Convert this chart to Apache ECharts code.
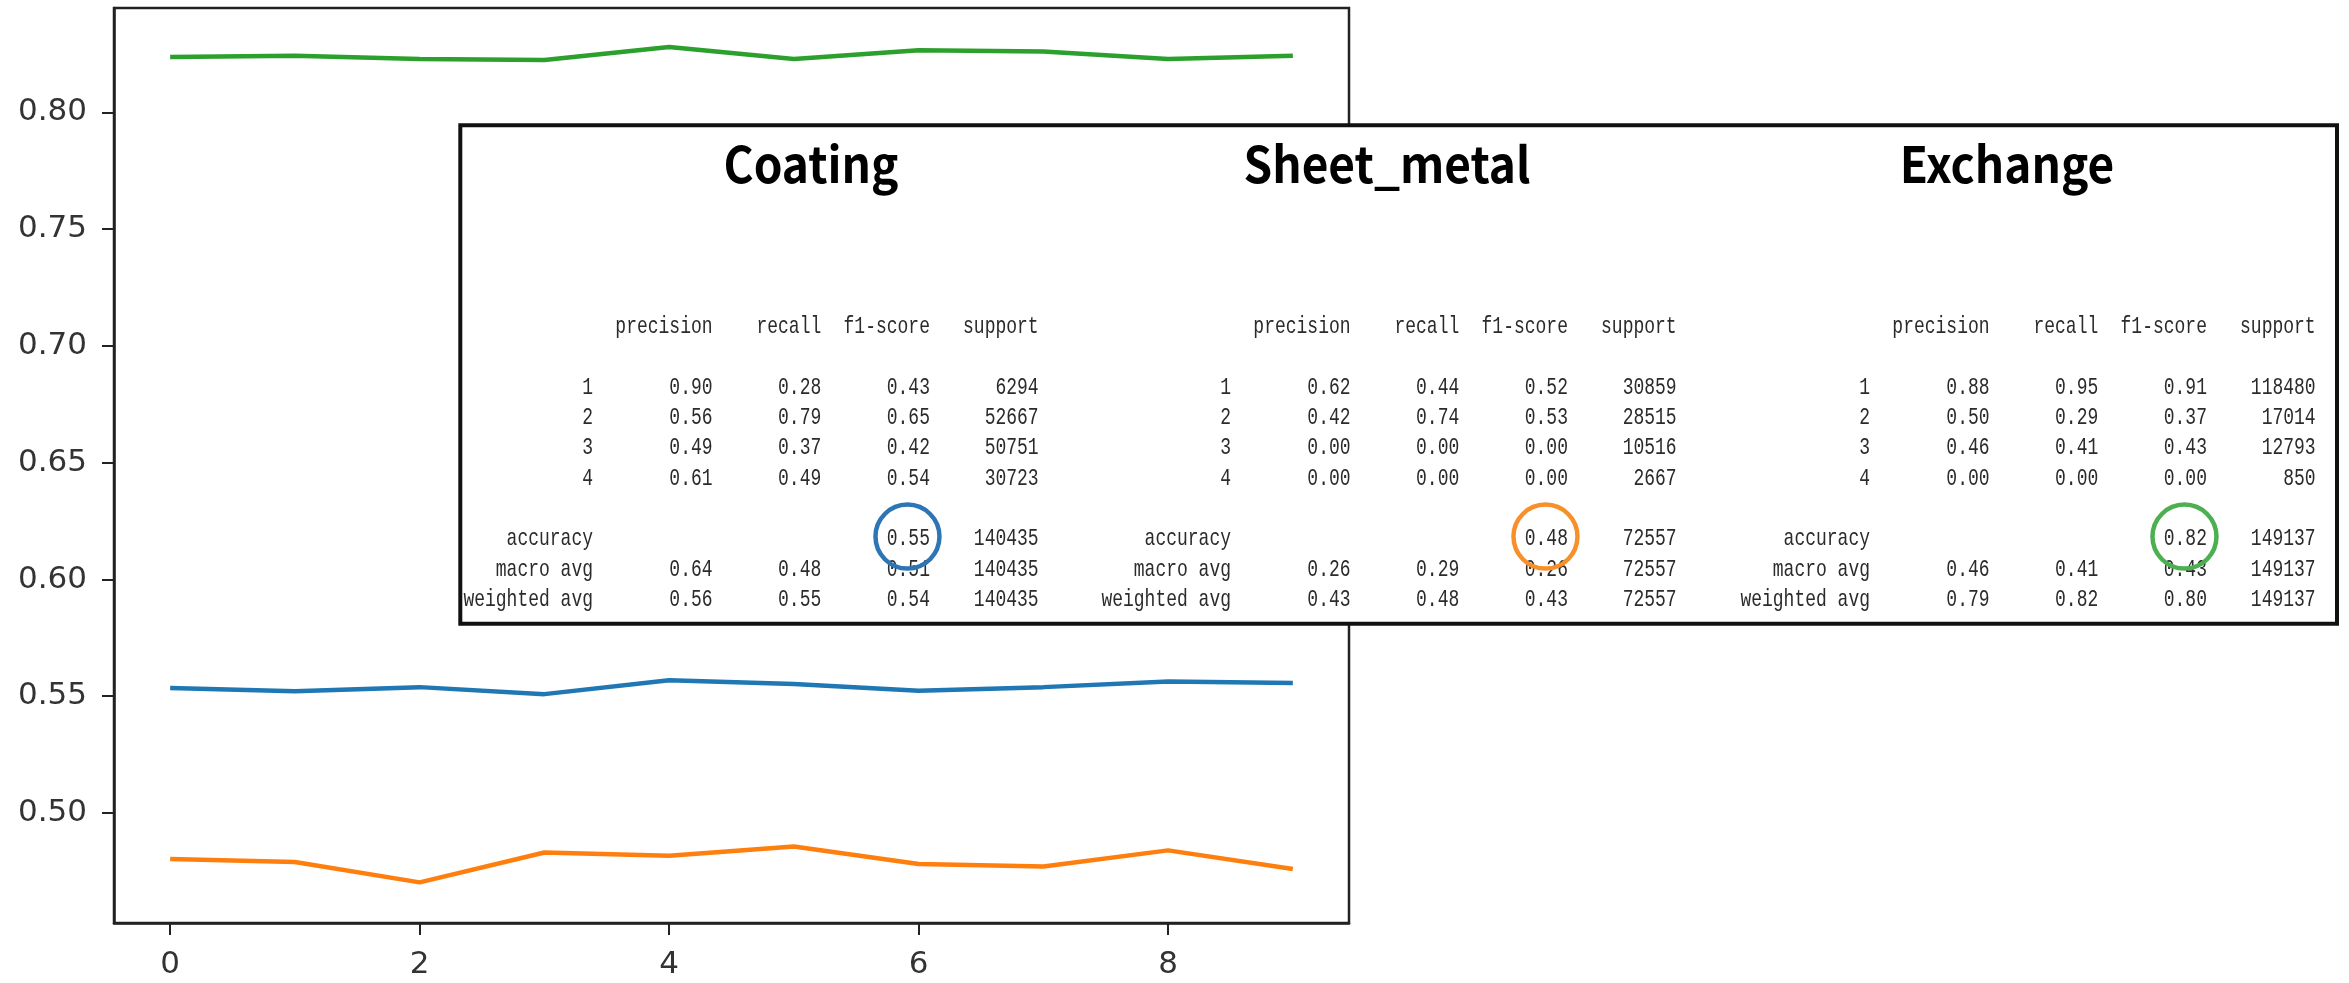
<!DOCTYPE html>
<html>
<head>
<meta charset="utf-8">
<script src="https://cdn.jsdelivr.net/npm/echarts@6/dist/echarts.min.js"></script>
<style>
html,body{margin:0;padding:0;background:#fff;}
#chart{width:2349px;height:983px;}
</style>
</head>
<body>
<div id="chart"></div>
<script>
// ---- data ----
const xValues = [0, 1, 2, 3, 4, 5, 6, 7, 8, 9];
const coatingF1 = [0.5535, 0.5521, 0.5539, 0.5509, 0.5568, 0.5552, 0.5524, 0.5539, 0.5563, 0.5557];
const sheetMetalF1 = [0.4803, 0.4790, 0.4703, 0.4831, 0.4817, 0.4857, 0.4782, 0.4771, 0.4840, 0.4760];
const exchangeF1 = [0.8237, 0.8243, 0.8229, 0.8224, 0.8280, 0.8229, 0.8266, 0.8261, 0.8229, 0.8243];
const yTicks = [0.50, 0.55, 0.60, 0.65, 0.70, 0.75, 0.80];
const xTicks = [0, 2, 4, 6, 8];

const reportTitles = ['Coating', 'Sheet_metal', 'Exchange'];
const reportHeaders = ['precision', 'recall', 'f1-score', 'support'];
const reportRowLabels = ['1', '2', '3', '4', 'accuracy', 'macro avg', 'weighted avg'];
const coatingReport = [
  [0.90, 0.28, 0.43, 6294],
  [0.56, 0.79, 0.65, 52667],
  [0.49, 0.37, 0.42, 50751],
  [0.61, 0.49, 0.54, 30723],
  [null, null, 0.55, 140435],
  [0.64, 0.48, 0.51, 140435],
  [0.56, 0.55, 0.54, 140435]
];
const sheetMetalReport = [
  [0.62, 0.44, 0.52, 30859],
  [0.42, 0.74, 0.53, 28515],
  [0.00, 0.00, 0.00, 10516],
  [0.00, 0.00, 0.00, 2667],
  [null, null, 0.48, 72557],
  [0.26, 0.29, 0.26, 72557],
  [0.43, 0.48, 0.43, 72557]
];
const exchangeReport = [
  [0.88, 0.95, 0.91, 118480],
  [0.50, 0.29, 0.37, 17014],
  [0.46, 0.41, 0.43, 12793],
  [0.00, 0.00, 0.00, 850],
  [null, null, 0.82, 149137],
  [0.46, 0.41, 0.43, 149137],
  [0.79, 0.82, 0.80, 149137]
];

// ---- styling / layout ----
const seriesColors = ['#1f77b4', '#ff7f0e', '#2ca02c'];
const circleColors = ['#2E75B6', '#F7902A', '#4CAF50'];
const reports = [coatingReport, sheetMetalReport, exchangeReport];
const tableLabelRight = [593, 1231, 1870];
const titleCenterX = [811, 1387, 2007];
const charW = 10.87;
const lineH = 30.3;
const headerY = 327;
const rowLines = [2, 3, 4, 5, 7, 8, 9];
const tableFont = {fontSize: 18, fontFamily: '"Liberation Mono", monospace', fill: '#2b2b2b'};
const textScaleY = 1.3;

const graphics = [];
graphics.push({
  type: 'rect', z: 50,
  shape: {x: 460.3, y: 125.3, width: 1876.7, height: 498.4},
  style: {fill: '#ffffff', stroke: '#111', lineWidth: 4}
});

function cellText(x, y, text, align) {
  return {
    type: 'text', z: 60, x: x, y: y, scaleY: textScaleY,
    style: Object.assign({text: text, x: 0, y: 0, align: align || 'right', verticalAlign: 'middle'}, tableFont)
  };
}

reports.forEach(function (rep, t) {
  const lr = tableLabelRight[t];
  const colRight = [0, 1, 2, 3].map(k => lr + (11 + 10 * k) * charW);
  graphics.push({
    type: 'text', z: 60, x: titleCenterX[t], y: 164, scaleY: 1.08,
    style: {text: reportTitles[t], x: 0, y: 0, align: 'center', verticalAlign: 'middle',
      fontSize: 46, fontWeight: 'bold', fontFamily: '"Noto Sans CJK KR", "Noto Sans", sans-serif', fill: '#000'}
  });
  reportHeaders.forEach((h, k) => graphics.push(cellText(colRight[k], headerY, h)));
  rep.forEach(function (row, r) {
    const y = headerY + rowLines[r] * lineH;
    graphics.push(cellText(lr, y, reportRowLabels[r]));
    row.forEach(function (v, k) {
      if (v === null) return;
      const s = k < 3 ? v.toFixed(2) : String(v);
      graphics.push(cellText(colRight[k], y, s));
    });
  });
  // circle round the accuracy f1-score
  graphics.push({
    type: 'circle', z: 70,
    shape: {cx: colRight[2] - 22.5, cy: headerY + 7 * lineH - 2.5, r: 32},
    style: {fill: null, stroke: circleColors[t], lineWidth: 4.5}
  });
});

const axisFont = {fontSize: 31, fontFamily: '"DejaVu Sans", sans-serif', color: '#333'};

const option = {
  backgroundColor: '#ffffff',
  animation: false,
  grid: {left: 114, top: 8, width: 1235, height: 915, show: true, borderColor: '#222', borderWidth: 2.5, backgroundColor: 'transparent'},
  xAxis: {
    type: 'value', min: -0.45, max: 9.45,
    axisLine: {show: true, onZero: false, lineStyle: {color: '#222', width: 2.5}},
    axisTick: {show: true, customValues: xTicks, length: 12, lineStyle: {color: '#222', width: 2}},
    axisLabel: Object.assign({customValues: xTicks, margin: 26, formatter: v => String(v)}, axisFont),
    splitLine: {show: false}
  },
  yAxis: {
    type: 'value', min: 0.4529, max: 0.8447,
    axisLine: {show: true, onZero: false, lineStyle: {color: '#222', width: 2.5}},
    axisTick: {show: true, customValues: yTicks, length: 12, lineStyle: {color: '#222', width: 2}},
    axisLabel: Object.assign({customValues: yTicks, margin: 27, formatter: v => v.toFixed(2)}, axisFont),
    splitLine: {show: false}
  },
  series: [
    {name: 'Coating', type: 'line', showSymbol: false, data: xValues.map((x, i) => [x, coatingF1[i]]), lineStyle: {color: seriesColors[0], width: 4.5}, itemStyle: {color: seriesColors[0]}, z: 2},
    {name: 'Sheet_metal', type: 'line', showSymbol: false, data: xValues.map((x, i) => [x, sheetMetalF1[i]]), lineStyle: {color: seriesColors[1], width: 4.5}, itemStyle: {color: seriesColors[1]}, z: 2},
    {name: 'Exchange', type: 'line', showSymbol: false, data: xValues.map((x, i) => [x, exchangeF1[i]]), lineStyle: {color: seriesColors[2], width: 4.5}, itemStyle: {color: seriesColors[2]}, z: 2}
  ],
  graphic: {elements: graphics}
};

const chart = echarts.init(document.getElementById('chart'), null, {renderer: 'canvas'});
chart.setOption(option);
</script>
</body>
</html>
